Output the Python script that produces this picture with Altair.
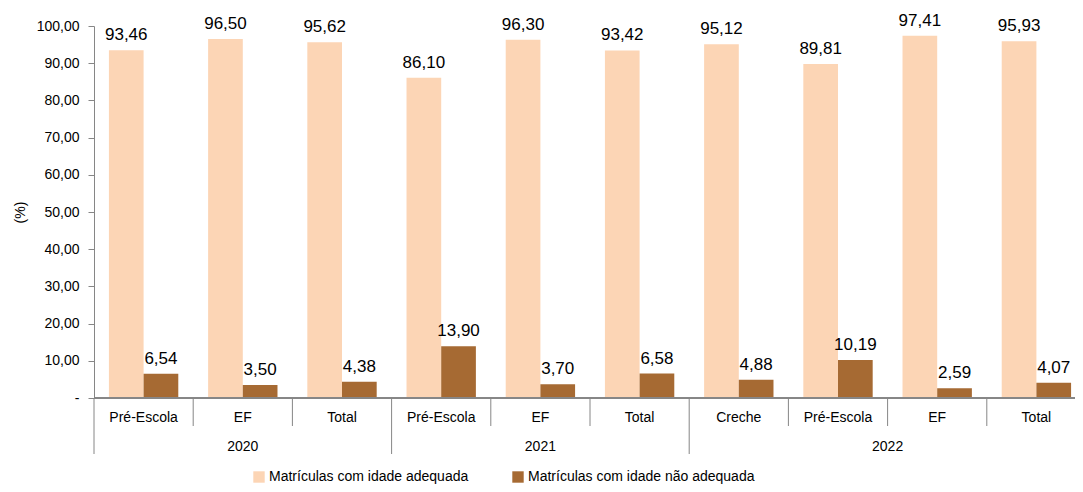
import altair as alt
import pandas as pd

years = ["2020", "2020", "2020", "2021", "2021", "2021", "2022", "2022", "2022", "2022"]
cats = ["Pré-Escola", "EF", "Total", "Pré-Escola", "EF", "Total", "Creche", "Pré-Escola", "EF", "Total"]
adequada = [93.46, 96.50, 95.62, 86.10, 96.30, 93.42, 95.12, 89.81, 97.41, 95.93]
nao_adequada = [6.54, 3.50, 4.38, 13.90, 3.70, 6.58, 4.88, 10.19, 2.59, 4.07]
series = ["Matrículas com idade adequada", "Matrículas com idade não adequada"]
colors = ["#FCD5B5", "#A66A33"]
yticks = [0, 10, 20, 30, 40, 50, 60, 70, 80, 90, 100]

rows = []
for i in range(len(cats)):
    rows.append({"idx": i, "year": years[i], "cat": cats[i], "serie": series[0], "v": adequada[i]})
    rows.append({"idx": i, "year": years[i], "cat": cats[i], "serie": series[1], "v": nao_adequada[i]})
df = pd.DataFrame(rows)

groups = pd.DataFrame({"idx": list(range(len(cats))), "year": years, "cat": cats})
groups["yearstart"] = [i == 0 or years[i] != years[i - 1] for i in range(len(years))]

H = 372
RANGE_W = 992
FONT = "Liberation Sans"

xo = alt.X("idx:O", axis=None, scale=alt.Scale(paddingInner=0, paddingOuter=0, range=[0, RANGE_W]))
xoff = alt.XOffset("serie:N", scale=alt.Scale(paddingInner=0, paddingOuter=0.43), sort=series)

yaxis = alt.Axis(values=yticks, tickCount=11, title="(%)",
                 labelExpr="datum.value == 0 ? '-' : replace(format(datum.value, '.2f'), '.', ',')",
                 labelOverlap=False,
                 grid=False, domainColor="#868686", tickColor="#868686", tickSize=6,
                 labelFont=FONT, labelFontSize=14, labelColor="#000000", labelPadding=9,
                 titleFont=FONT, titleFontSize=14, titleFontWeight="normal", titleColor="#000000",
                 titleX=-74, titleY=186, titleAlign="center", titleBaseline="middle", titleAngle=270)
yscale = alt.Scale(domain=[0, 100], nice=False)

bars = alt.Chart(df).mark_bar(stroke=None).encode(
    x=xo,
    xOffset=xoff,
    y=alt.Y("v:Q", scale=yscale, axis=yaxis),
    color=alt.Color("serie:N", scale=alt.Scale(domain=series, range=colors),
                    legend=alt.Legend(orient="none", legendX=158, legendY=444, direction="horizontal",
                                      title=None, symbolType="square", symbolSize=130, symbolStrokeWidth=0,
                                      labelFont=FONT, labelFontSize=14, labelColor="#000000",
                                      labelLimit=0, columnPadding=42, labelOffset=3)),
)

labels = alt.Chart(df).mark_text(baseline="bottom", dy=-6, font=FONT, fontSize=17, color="#000000").transform_calculate(
    lab="replace(format(datum.v, '.2f'), '.', ',')"
).encode(
    x=xo,
    xOffset=xoff,
    y=alt.Y("v:Q", scale=yscale, axis=yaxis),
    text="lab:N",
)

catlabels = alt.Chart(groups).mark_text(baseline="middle", font=FONT, fontSize=14, color="#000000").encode(
    x=xo,
    y=alt.value(H + 20),
    text="cat:N",
)

xq = alt.Scale(domain=[0, len(cats)], range=[0, RANGE_W], nice=False, zero=False)

axisline = alt.Chart(groups).mark_rule(color="#868686").encode(
    x=alt.value(0), x2=alt.value(RANGE_W), y=alt.value(H),
)

seps_small = alt.Chart(groups).transform_filter("!datum.yearstart").mark_rule(color="#868686").encode(
    x=alt.X("idx:Q", scale=xq, axis=None),
    y=alt.value(H), y2=alt.value(H + 28),
)
seps_big = alt.Chart(groups).transform_filter("datum.yearstart").mark_rule(color="#868686").encode(
    x=alt.X("idx:Q", scale=xq, axis=None),
    y=alt.value(H), y2=alt.value(H + 56),
)

yearlabels = alt.Chart(groups).transform_aggregate(
    lo="min(idx)", hi="max(idx)", groupby=["year"]
).transform_calculate(
    center="(datum.lo + datum.hi + 1) / 2"
).mark_text(baseline="middle", font=FONT, fontSize=14, color="#000000").encode(
    x=alt.X("center:Q", scale=xq, axis=None),
    y=alt.value(H + 49),
    text="year:N",
)

chart = alt.layer(bars, labels, catlabels, axisline, seps_small, seps_big, yearlabels).resolve_scale(
    x="independent"
).properties(
    width=981, height=H,
    autosize=alt.AutoSizeParams(type="none"),
    padding={"left": 86, "top": 18, "right": 0, "bottom": 86},
).configure_view(stroke=None).configure_axis(domainWidth=1)

chart.save("out.html", embed_options={"renderer": "svg", "actions": False})
